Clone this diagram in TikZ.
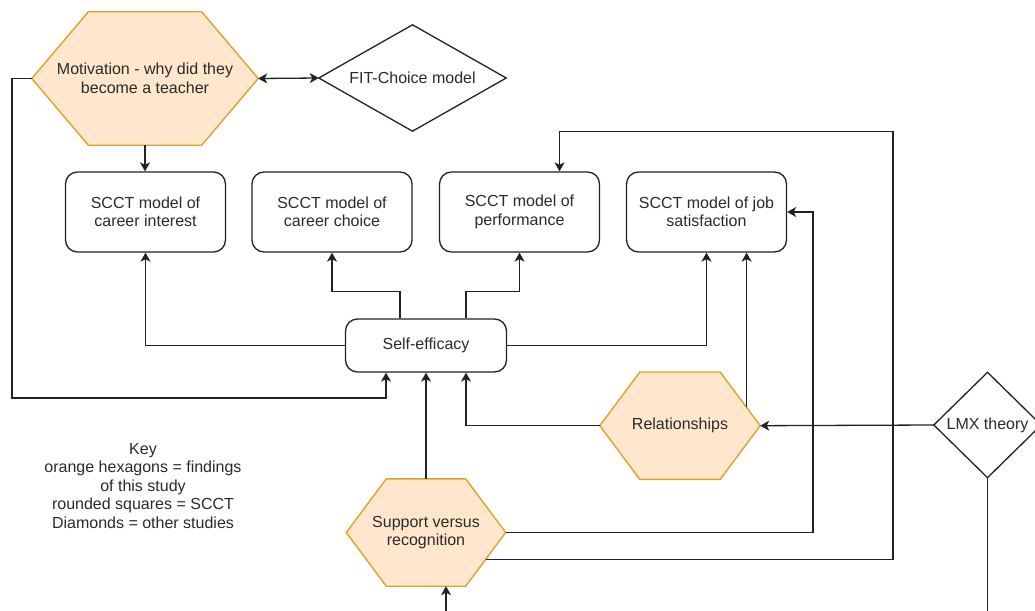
\documentclass[tikz,border=0pt]{standalone}
\usepackage{fontspec}
\setmainfont{Liberation Sans}
\usetikzlibrary{arrows.meta,calc,backgrounds}

\definecolor{hexfill}{HTML}{FFE6CC}
\definecolor{hexline}{HTML}{D9A32E}
\definecolor{ink}{HTML}{222222}
\definecolor{txt}{HTML}{2A2A2A}

\begin{document}
\begin{tikzpicture}[x=1pt,y=-1pt,
  every node/.style={font=\fontsize{16}{18.5}\selectfont, text=txt, align=center, inner sep=0pt},
  scct/.style={draw=ink, line width=1.3pt, rounded corners=12pt, minimum width=160pt, minimum height=80pt, fill=white},
  hexa/.style 2 args={minimum width=#1, minimum height=#2},
  diam/.style 2 args={minimum width=#1, minimum height=#2},
  hexborder/.style={draw=hexline, fill=hexfill, line width=1.4pt, line join=miter},
  diamborder/.style={draw=ink, fill=white, line width=1.3pt},
  conn/.style={draw=ink, line width=1.3pt},
  tip/.style={Stealth[length=9pt, width=10pt, inset=2.5pt]},
  arr/.style={conn, -{Stealth[length=9pt, width=10pt, inset=2.5pt]}},
  darr/.style={conn, {Stealth[length=9pt, width=10pt, inset=2.5pt]}-{Stealth[length=9pt, width=10pt, inset=2.5pt]}}
]
\useasboundingbox (0,0) rectangle (1035,610);
\clip (0,0) rectangle (1035,610);

% findings (hexagons)
\node[hexa={226pt}{133pt}] (mot) at (145,78.5) {Motivation - why did they\\become a teacher};
\node[hexa={160pt}{107pt}] (rel) at (680,425.7) {Relationships};
\node[hexa={159pt}{107pt}] (sup) at (426,532.5) {Support versus\\recognition};

% other studies (diamonds)
\node[diam={187pt}{106pt}] (fit) at (412.5,78) {FIT-Choice model};
\node[diam={107pt}{105pt}] (lmx) at (987.5,425) {LMX theory};

% SCCT models
\node[scct] (b1) at (145.5,212) {SCCT model of\\career interest};
\node[scct] (b2) at (332,212) {SCCT model of\\career choice};
\node[scct] (b3) at (519.5,212) {SCCT model of\\performance};
\node[scct] (b4) at (706.5,212) {SCCT model of job\\satisfaction};
\node[scct, minimum width=161pt, minimum height=53pt] (se) at (426,345.5) {Self-efficacy};

% key
\node (key) at (143,486) {Key\\orange hexagons = findings\\of this study\\rounded squares = SCCT\\Diamonds = other studies};

\begin{scope}[on background layer]
  \foreach \n/\s in {mot/56.5,rel/40,sup/40}
    \path[hexborder] (\n.west) -- ([xshift=\s pt]\n.north west) -- ([xshift=-\s pt]\n.north east)
      -- (\n.east) -- ([xshift=-\s pt]\n.south east) -- ([xshift=\s pt]\n.south west) -- cycle;
  \foreach \n in {fit,lmx}
    \path[diamborder] (\n.west) -- (\n.north) -- (\n.east) -- (\n.south) -- cycle;
\end{scope}

% bend points and free ends
\coordinate (loop) at (12,398);
\coordinate (rx) at (813,0);
\coordinate (ox) at (893,131.7);
\coordinate (lmxend) at (987.5,620);
\coordinate (supin) at (446,620);
\coordinate (r1) at ($([xshift=-40pt]rel.north east)!0.66!(rel.east)$);
\coordinate (s1) at ($(sup.east)!0.5!([xshift=-40pt]sup.south east)$);

% connectors
\draw[darr] (mot.east) -- (fit.west);
\draw[arr] (mot.south) -- (mot.south |- b1.north);
\draw[arr] (mot.west) -| (loop) -| ([xshift=-40pt]se.south);

\draw[arr] (se.west) -| (b1.south);
\draw[arr] ([xshift=-26pt]se.north) -- ++(0,-27) -| (b2.south);
\draw[arr] ([xshift=40pt]se.north) -- ++(0,-27) -| (b3.south);
\draw[arr] (se.east) -| (b4.south);

\draw[arr] (sup.north) -- (se.south);
\draw[arr] (rel.west) -| ([xshift=40pt]se.south);
\draw[arr] (r1) -- (r1 |- b4.south);
\draw[arr] (sup.east) -| (rx |- b4.east) -- (b4.east);
\draw[arr] (s1) -| (ox) -| ([xshift=40pt]b3.north);

\draw[arr] (lmx.west) -- (rel.east);
\draw[conn] (lmx.south) -- (lmxend);
\draw[arr] (supin) -- (supin |- sup.south);
\end{tikzpicture}
\end{document}
